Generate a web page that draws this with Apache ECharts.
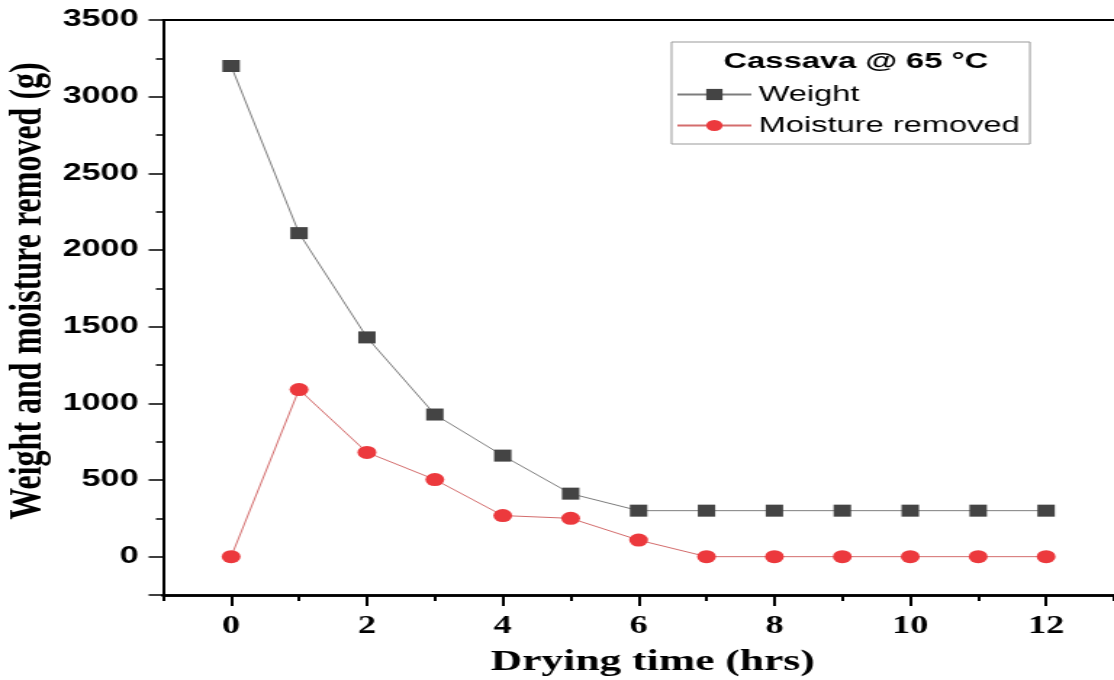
<!DOCTYPE html>
<html>
<head>
<meta charset="utf-8">
<script src="https://cdn.jsdelivr.net/npm/echarts@6/dist/echarts.min.js"></script>
<style>
html,body{margin:0;padding:0;background:#fff;overflow:hidden}
#c{width:768px;height:680px;transform:scaleX(1.4505);transform-origin:0 0}
</style>
</head>
<body>
<div id="c"></div>
<script>
const hours = [0,1,2,3,4,5,6,7,8,9,10,11,12];
const weight = [3200,2110,1430,927,659,411,300,300,300,300,300,300,300];
const moisture = [0,1090,680,503,268,250,108,0,0,0,0,0,0];
const yMajorTicks = [-250,0,500,1000,1500,2000,2500,3000,3500];
const xMajorTicks = [0,2,4,6,8,10,12];
const legendTitle = 'Cassava @ 65 °C';
const xTitle = 'Drying time (hrs)';
const yTitle = 'Weight and moisture removed (g)';

const serif = '"Liberation Serif", "Times New Roman", serif';
const sans = 'Arial, "Liberation Sans", sans-serif';
const chart = echarts.init(document.getElementById('c'));
const pair = (ys) => hours.map((h,i)=>[h, ys[i]]);
const axisBase = {type:'value', splitLine:{show:false}};
chart.setOption({
  backgroundColor:'#fff',
  animation:false,
  grid:{left:112.5,right:-6,top:20,bottom:85},
  graphic:[
    {type:'text',x:590,y:62,style:{text:legendTitle,font:'bold 22.5px ' + sans,fill:'#000',textAlign:'center',textVerticalAlign:'middle'}},
    {type:'text',x:450,y:662,style:{text:xTitle,font:'bold 30px ' + serif,fill:'#000',textAlign:'center',textVerticalAlign:'middle'}},
    {type:'text',x:19.5,y:291,rotation:Math.PI/2,style:{text:yTitle,font:'bold 32px ' + serif,fill:'#000',textAlign:'center',textVerticalAlign:'middle'}}
  ],
  legend:{
    left:463, top:42, orient:'vertical',
    padding:[41,7,7,3],
    borderColor:'#999', borderWidth:1,
    itemWidth:51, itemHeight:14, itemGap:8,
    textStyle:{fontFamily:sans,fontSize:22.5,color:'#000'},
    data:['Weight','Moisture removed']
  },
  xAxis:[Object.assign({}, axisBase, {
    min:-1, max:13, interval:1,
    axisLine:{show:true,onZero:false,lineStyle:{color:'#000',width:2.5}},
    axisTick:{show:true,inside:false,length:6,lineStyle:{color:'#000',width:2}},
    axisLabel:{show:false}
  }), Object.assign({}, axisBase, {
    min:-1, max:13, position:'bottom',
    axisLine:{show:true,onZero:false,lineStyle:{color:'#000',width:2.5}},
    axisTick:{show:true,inside:false,length:11,customValues:xMajorTicks,lineStyle:{color:'#000',width:2}},
    axisLabel:{margin:19,customValues:xMajorTicks,formatter:v=>String(v),fontFamily:serif,fontWeight:'bold',fontSize:25,color:'#000'}
  }), Object.assign({}, axisBase, {
    position:'top', min:-1, max:13,
    axisLine:{show:true,onZero:false,lineStyle:{color:'#000',width:2}},
    axisTick:{show:false}, axisLabel:{show:false}
  })],
  yAxis:[Object.assign({}, axisBase, {
    min:-250, max:3500, interval:250,
    axisLine:{show:true,onZero:false,lineStyle:{color:'#000',width:2}},
    axisTick:{show:true,inside:false,length:5,lineStyle:{color:'#000',width:1.5}},
    axisLabel:{show:false}
  }), Object.assign({}, axisBase, {
    min:-250, max:3500, position:'left',
    axisLine:{show:true,onZero:false,lineStyle:{color:'#000',width:2}},
    axisTick:{show:true,inside:false,length:10,customValues:yMajorTicks,lineStyle:{color:'#000',width:1.5}},
    axisLabel:{margin:17,customValues:yMajorTicks,formatter:v=> v>=0 ? String(v) : '',fontFamily:sans,fontWeight:'bold',fontSize:23.5,color:'#000'}
  })],
  series:[
    {name:'Weight',type:'line',data:pair(weight),symbol:'rect',symbolSize:12,
      itemStyle:{color:'#444444'},lineStyle:{color:'#7d7d7d',width:1}},
    {name:'Moisture removed',type:'line',data:pair(moisture),symbol:'circle',symbolSize:13,
      itemStyle:{color:'#ec393d'},lineStyle:{color:'#d46d6d',width:1}}
  ]
});
</script>
</body>
</html>
